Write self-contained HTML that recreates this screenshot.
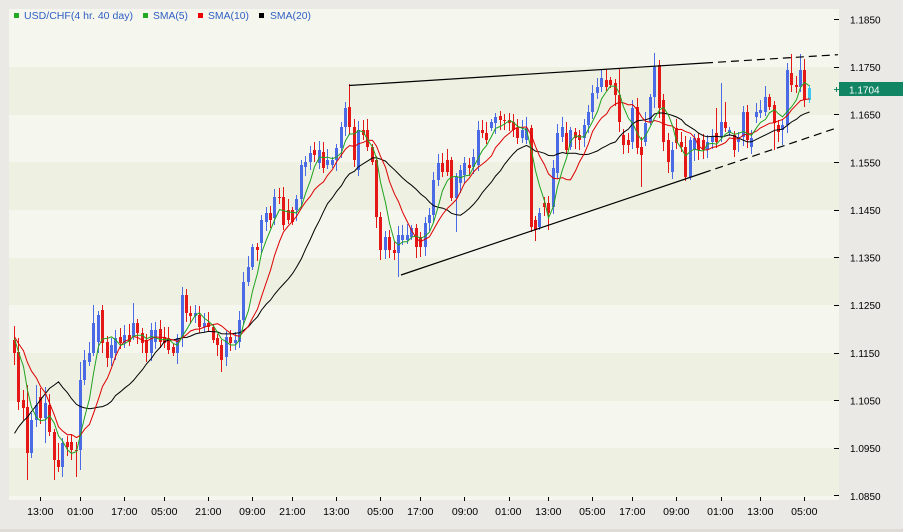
<!DOCTYPE html>
<html>
<head>
<meta charset="utf-8">
<style>
html,body{margin:0;padding:0;background:#ebe9e5;}
body{width:903px;height:532px;overflow:hidden;position:relative;}
svg{position:absolute;left:0;top:0;}
</style>
</head>
<body>
<svg width="903" height="532" xmlns="http://www.w3.org/2000/svg" font-family="'Liberation Sans', Arial, sans-serif">
<rect x="0" y="0" width="903" height="532" fill="#ebe9e5"/>
<rect x="0" y="529" width="903" height="3" fill="#dedbd6"/>
<rect x="9" y="9" width="830" height="491" fill="#eef0e2"/>
<g fill="#f5f6ee">
<rect x="9" y="9" width="830" height="58"/>
<rect x="9" y="115" width="830" height="47"/>
<rect x="9" y="210" width="830" height="48"/>
<rect x="9" y="305" width="830" height="48"/>
<rect x="9" y="401" width="830" height="47"/>
<rect x="9" y="496" width="830" height="4"/>
</g>
<path d="M834 19.5H839M834 67.5H839M834 114.5H839M834 162.5H839M834 210.5H839M834 257.5H839M834 305.5H839M834 353.5H839M834 400.5H839M834 448.5H839M834 495.5H839" stroke="#000" stroke-width="1" shape-rendering="crispEdges"/>
<g font-size="10" fill="#000">
<text x="850" y="23.3">1.1850</text>
<text x="850" y="71">1.1750</text>
<text x="850" y="118.6">1.1650</text>
<text x="850" y="166.3">1.1550</text>
<text x="850" y="213.9">1.1450</text>
<text x="850" y="261.6">1.1350</text>
<text x="850" y="309.2">1.1250</text>
<text x="850" y="356.9">1.1150</text>
<text x="850" y="404.5">1.1050</text>
<text x="850" y="452.2">1.0950</text>
<text x="850" y="499.8">1.0850</text>
</g>
<rect x="839" y="82" width="64" height="14" fill="#128564"/>
<line x1="834" y1="89.5" x2="839" y2="89.5" stroke="#128564" stroke-width="1"/>
<line x1="836.5" y1="87" x2="836.5" y2="92" stroke="#128564" stroke-width="1"/>
<text x="849" y="93.3" font-size="10" fill="#ffffff">1.1704</text>
<path d="M40.5 497V501M80.5 497V501M124.5 497V501M164.5 497V501M208.5 497V501M252.5 497V501M292.5 497V501M336.5 497V501M380.5 497V501M420.5 497V501M464.5 497V501M509.5 497V501M548.5 497V501M592.5 497V501M632.5 497V501M676.5 497V501M721.5 497V501M760.5 497V501M804.5 497V501" stroke="#000" stroke-width="1" shape-rendering="crispEdges"/>
<g font-size="10.5" fill="#000" text-anchor="middle">
<text x="40.3" y="515">13:00</text>
<text x="80.3" y="515">01:00</text>
<text x="124.3" y="515">17:00</text>
<text x="164.3" y="515">05:00</text>
<text x="208.3" y="515">21:00</text>
<text x="252.3" y="515">09:00</text>
<text x="292.3" y="515">21:00</text>
<text x="336.3" y="515">13:00</text>
<text x="380.3" y="515">05:00</text>
<text x="420.3" y="515">17:00</text>
<text x="465" y="515">09:00</text>
<text x="508.3" y="515">01:00</text>
<text x="548.3" y="515">13:00</text>
<text x="592.3" y="515">05:00</text>
<text x="632.3" y="515">17:00</text>
<text x="676.3" y="515">09:00</text>
<text x="720.3" y="515">01:00</text>
<text x="760.3" y="515">13:00</text>
<text x="804.3" y="515">05:00</text>
</g>
<rect x="14" y="13" width="5" height="5" fill="#22aa22"/>
<text x="24" y="19" font-size="10" fill="#2f5fc4" textLength="109" lengthAdjust="spacingAndGlyphs">USD/CHF(4 hr.  40 day)</text>
<rect x="143" y="13" width="5" height="5" fill="#22aa22"/>
<text x="153" y="19" font-size="10" fill="#2f5fc4" textLength="35" lengthAdjust="spacingAndGlyphs">SMA(5)</text>
<rect x="198" y="13" width="5" height="5" fill="#ee0000"/>
<text x="208" y="19" font-size="10" fill="#2f5fc4" textLength="41" lengthAdjust="spacingAndGlyphs">SMA(10)</text>
<rect x="259" y="13" width="5" height="5" fill="#000000"/>
<text x="270" y="19" font-size="10" fill="#2f5fc4" textLength="41" lengthAdjust="spacingAndGlyphs">SMA(20)</text>
<g shape-rendering="crispEdges" fill="none">
<path stroke="#e51818" stroke-width="1" d="M14.5 326V365M18.5 338V410M23.5 390V420M27.5 385V480M40.5 388V424M49.5 394V436M54.5 429V480M58.5 443V472M67.5 436V456M71.5 435V460M76.5 442V477M102.5 305V353M107.5 336V367M120.5 328V349M129.5 324V346M137.5 319V344M142.5 328V353M146.5 334V362M160.5 320V348M164.5 327V348M168.5 327V354M173.5 344V356M186.5 289V322M190.5 306V324M199.5 306V333M208.5 312V331M213.5 324V343M217.5 334V356M221.5 340V372M230.5 330V351M257.5 243V261M270.5 206V228M279.5 188V204M283.5 187V230M288.5 199V224M292.5 207V225M314.5 142V162M323.5 142V173M349.5 84V135M354.5 119V167M363.5 120V140M367.5 119V151M372.5 144V165M376.5 156V228M380.5 212V260M389.5 230V258M394.5 242V260M416.5 224V258M420.5 232V257M442.5 153V177M447.5 149V176M451.5 157V201M469.5 158V176M482.5 120V138M486.5 122V144M500.5 111V130M504.5 114V130M509.5 113V131M513.5 114V137M517.5 119V144M531.5 125V232M535.5 216V241M544.5 197V216M548.5 196V230M566.5 122V154M575.5 128V149M579.5 130V150M606.5 69V91M610.5 77V88M615.5 79V106M619.5 68V132M623.5 129V154M628.5 133V153M637.5 98V154M641.5 137V187M659.5 60V118M663.5 94V151M668.5 133V173M676.5 119V149M681.5 132V152M685.5 136V181M698.5 133V160M703.5 134V159M716.5 108V148M725.5 102V132M734.5 131V157M747.5 105V148M769.5 94V110M774.5 101V150M778.5 120V142M791.5 54V92M796.5 76V93M804.5 59V107"/>
<path stroke="#e51818" stroke-width="3" d="M14.5 340V353M18.5 352V402M23.5 400V408M27.5 407V453M40.5 397V418M49.5 405V432M54.5 432V460M58.5 460V467M67.5 442V447M71.5 442V450M76.5 450V451M102.5 310V343M107.5 342V358M120.5 337V343M129.5 335V342M137.5 323V333M142.5 333V343M146.5 340V353M160.5 329V342M164.5 337V343M168.5 338V350M173.5 347V353M186.5 295V313M190.5 313V316M199.5 315V327M208.5 323V327M213.5 327V340M217.5 338V345M221.5 345V360M230.5 337V343M257.5 247V250M270.5 213V220M279.5 197V198M283.5 197V225M288.5 210V220M292.5 210V222M314.5 150V155M323.5 152V168M349.5 107V127M354.5 127V160M363.5 130V135M367.5 130V147M372.5 147V162M376.5 160V217M380.5 217V250M389.5 237V250M394.5 250V253M416.5 228V247M420.5 237V247M442.5 163V172M447.5 160V172M451.5 160V198M469.5 165V168M482.5 130V133M486.5 133V140M500.5 116V120M504.5 120V121M509.5 120V123M513.5 122V130M517.5 128V138M531.5 128V227M535.5 220V230M544.5 203V207M548.5 203V213M566.5 133V150M575.5 132V138M579.5 135V140M606.5 80V87M610.5 80V85M615.5 83V95M619.5 95V122M623.5 135V145M628.5 140V145M637.5 107V148M641.5 147V155M659.5 65V108M663.5 100V142M668.5 140V162M676.5 128V143M681.5 142V147M685.5 147V177M698.5 138V150M703.5 140V150M716.5 133V142M725.5 122V128M734.5 135V150M747.5 112V140M769.5 97V107M774.5 105V123M778.5 125V132M791.5 73V85M796.5 85V87M804.5 70V100"/>
<path stroke="#4a6ae6" stroke-width="1" d="M31.5 413V458M36.5 385V427M45.5 387V443M62.5 438V477M80.5 362V470M84.5 350V385M89.5 342V366M93.5 305V356M98.5 311V353M111.5 338V366M115.5 330V360M124.5 325V348M133.5 303V340M151.5 323V361M155.5 322V349M177.5 334V364M182.5 287V347M195.5 305V323M204.5 313V332M226.5 331V366M235.5 332V350M239.5 311V348M243.5 272V325M248.5 256V286M252.5 244V270M261.5 215V253M266.5 207V231M274.5 189V225M296.5 195V221M301.5 160V209M305.5 156V176M310.5 146V170M319.5 141V169M327.5 149V169M332.5 157V168M336.5 144V171M341.5 122V158M345.5 102V136M358.5 121V176M385.5 231V259M398.5 226V277M402.5 225V245M407.5 224V244M411.5 225V240M425.5 217V256M429.5 208V231M433.5 172V222M438.5 154V186M456.5 173V232M460.5 165V193M464.5 157V184M473.5 149V174M478.5 121V171M491.5 119V131M495.5 113V134M522.5 120V143M526.5 117V144M539.5 208V230M553.5 160V214M557.5 124V179M562.5 117V142M570.5 127V150M584.5 119V147M588.5 105V133M592.5 85V119M597.5 78V99M601.5 70V92M632.5 100V149M645.5 112V146M650.5 94V125M654.5 53V108M672.5 142V179M690.5 137V180M694.5 134V161M707.5 135V158M712.5 129V149M721.5 83V142M729.5 127V136M738.5 132V152M743.5 106V146M751.5 130V154M756.5 103V123M760.5 100V118M765.5 86V116M782.5 119V145M787.5 63V133M800.5 54V92"/>
<path stroke="#4a6ae6" stroke-width="3" d="M31.5 420V453M36.5 405V420M45.5 403V418M62.5 443V467M80.5 380V450M84.5 360V380M89.5 353V362M93.5 323V353M98.5 315V342M111.5 345V358M115.5 338V353M124.5 335V343M133.5 323V337M151.5 330V353M155.5 330V342M177.5 338V353M182.5 295V337M195.5 313V316M204.5 323V327M226.5 337V357M235.5 340V343M239.5 320V342M243.5 282V320M248.5 267V282M252.5 247V267M261.5 220V243M266.5 213V222M274.5 197V218M296.5 199V210M301.5 165V199M305.5 162V167M310.5 153V162M319.5 150V163M327.5 160V165M332.5 160V165M336.5 148V160M341.5 127V148M345.5 108V127M358.5 130V170M385.5 237V250M398.5 235V253M402.5 235V240M407.5 235V240M411.5 228V237M425.5 223V247M429.5 215V223M433.5 180V215M438.5 163V180M456.5 177V198M460.5 170V183M464.5 163V175M473.5 157V167M478.5 130V165M491.5 122V128M495.5 117V123M522.5 130V138M526.5 128V140M539.5 213V227M553.5 168V207M557.5 133V173M562.5 127V137M570.5 130V147M584.5 125V138M588.5 112V125M592.5 93V112M597.5 87V93M601.5 78V87M632.5 108V142M645.5 123V142M650.5 97V122M654.5 67V97M672.5 150V172M690.5 140V177M694.5 138V150M707.5 142V150M712.5 137V142M721.5 122V137M729.5 130V133M738.5 137V142M743.5 112V137M751.5 138V147M756.5 112V117M760.5 110V113M765.5 97V112M782.5 125V130M787.5 70V125M800.5 70V87"/>
<path stroke="#3fc6ee" stroke-width="1" d="M809.5 85V103"/>
<path stroke="#3fc6ee" stroke-width="3" d="M809.5 88V100"/>
</g>
<polyline id="s20" fill="none" stroke="#000000" stroke-width="1"/>
<polyline id="s10" fill="none" stroke="#dd0000" stroke-width="1"/>
<polyline id="s5" fill="none" stroke="#1fa31f" stroke-width="1"/>
<line x1="349" y1="85.5" x2="705" y2="63" stroke="#000" stroke-width="1.2"/>
<line x1="705" y1="63" x2="838" y2="54.7" stroke="#000" stroke-width="1.2" stroke-dasharray="8,5"/>
<line x1="401" y1="275" x2="703" y2="173" stroke="#000" stroke-width="1.2"/>
<line x1="703" y1="173" x2="838" y2="127.5" stroke="#000" stroke-width="1.2" stroke-dasharray="8,5"/>
</svg>
<script>
var CL=[353,402,408,453,420,405,418,403,432,460,467,443,447,450,451,380,360,353,323,315,
343,358,345,338,343,335,342,323,333,343,353,330,330,342,343,350,353,338,295,313,
316,313,327,323,327,340,345,360,337,343,340,320,282,267,247,250,220,213,220,197,
198,225,220,222,199,165,162,153,155,150,168,160,160,148,127,108,127,160,130,135,
147,162,217,250,237,250,253,235,235,235,228,247,247,223,215,180,163,172,172,198,
177,170,163,168,157,130,133,140,122,117,120,121,123,130,138,130,128,227,230,213,
207,213,168,133,127,150,130,138,140,125,112,93,87,78,87,85,95,122,145,145,
108,148,155,123,97,67,108,142,162,150,143,147,177,140,138,150,150,142,137,142,
122,128,130,150,137,112,140,138,112,110,97,107,123,132,125,70,85,87,70,100,88];
function X(i){return Math.round(13.8+4.417*i);}
var C=[];
for(var k=0;k<10;k++)C.push(530);
for(var k=0;k<9;k++)C.push(335);
for(var i=0;i<CL.length;i++)C.push(CL[i]);
function sma(n){
  var p=[];
  for(var i=0;i<CL.length;i++){
    var s=0;for(var k=0;k<n;k++)s+=C[19+i-k];
    p.push((X(i)+0.5)+','+(s/n).toFixed(1));
  }
  return p.join(' ');
}
document.getElementById('s5').setAttribute('points',sma(5));
document.getElementById('s10').setAttribute('points',sma(10));
document.getElementById('s20').setAttribute('points',sma(20));
</script>
</body>
</html>
